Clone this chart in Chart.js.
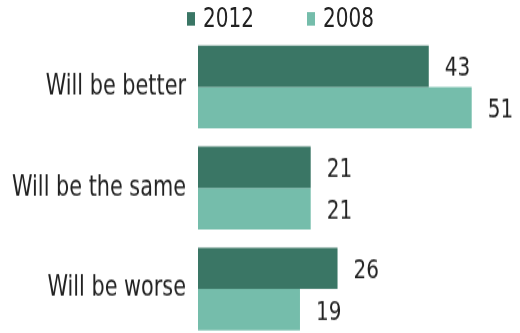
<!DOCTYPE html>
<html>
<head>
<meta charset="utf-8">
<script src="https://cdn.jsdelivr.net/npm/chart.js@4.4.1/dist/chart.umd.min.js"></script>
<style>
  html, body { margin: 0; padding: 0; background: #ffffff; overflow: hidden; }
  /* the reference picture is stretched vertically; reproduce that stretch */
  #wrap { position: absolute; left: 0; top: 0; width: 520px; height: 276px;
          transform: scaleY(1.35); transform-origin: 0 0; }
  #box { position: absolute; left: 0; top: 0; width: 520px; height: 276px; }
  #legend { position: absolute; top: 2px; left: 0; width: 520px; height: 22px;
            font-family: "DejaVu Sans", sans-serif; font-size: 20px; color: #222; }
  .item { position: absolute; top: 0; line-height: 22px; white-space: nowrap; }
  .sw { display: inline-block; width: 8px; height: 10px; margin-right: 8px; vertical-align: 1px; }
</style>
</head>
<body>
<div id="wrap">
  <div id="box"><canvas id="c"></canvas></div>
  <div id="legend"></div>
</div>
<script>
const categories = ["Will be better", "Will be the same", "Will be worse"];
const seriesNames = ["2012", "2008"];
const values2012 = [43, 21, 26];
const values2008 = [51, 21, 19];
const seriesColors = ["#3a7665", "#75bdab"];
const legendLeft = [187, 307];

const FONT = "DejaVu Sans";

const valueLabels = {
  id: "valueLabels",
  afterDatasetsDraw(chart) {
    const ctx = chart.ctx;
    ctx.save();
    ctx.font = "20px '" + FONT + "'";
    ctx.fillStyle = "#222";
    ctx.textAlign = "left";
    ctx.textBaseline = "middle";
    chart.data.datasets.forEach((ds, i) => {
      const meta = chart.getDatasetMeta(i);
      meta.data.forEach((bar, j) => {
        ctx.fillText(String(ds.data[j]), bar.x + 16, bar.y + 2);
      });
    });
    ctx.restore();
  }
};

const chart = new Chart(document.getElementById("c"), {
  type: "bar",
  data: {
    labels: categories,
    datasets: [
      { label: seriesNames[0], data: values2012, backgroundColor: seriesColors[0], borderWidth: 0 },
      { label: seriesNames[1], data: values2008, backgroundColor: seriesColors[1], borderWidth: 0 }
    ]
  },
  options: {
    indexAxis: "y",
    responsive: true,
    maintainAspectRatio: false,
    animation: false,
    events: [],
    layout: { padding: { top: 27, bottom: 6, left: 0, right: 0 } },
    datasets: { bar: { categoryPercentage: 0.82, barPercentage: 1.0 } },
    plugins: { legend: { display: false }, tooltip: { enabled: false } },
    scales: {
      x: { display: false, min: 0, max: 60 },
      y: {
        grid: { display: false, drawTicks: false },
        border: { display: false },
        afterFit(scale) { scale.width = 198; },
        ticks: { padding: 12, color: "#222", font: { family: FONT, size: 20.8 } }
      }
    }
  },
  plugins: [valueLabels]
});

const legendEl = document.getElementById("legend");
chart.data.datasets.forEach((ds, i) => {
  const it = document.createElement("div");
  it.className = "item";
  it.style.left = legendLeft[i] + "px";
  const sw = document.createElement("span");
  sw.className = "sw";
  sw.style.background = ds.backgroundColor;
  it.appendChild(sw);
  it.appendChild(document.createTextNode(ds.label));
  legendEl.appendChild(it);
});
</script>
</body>
</html>
